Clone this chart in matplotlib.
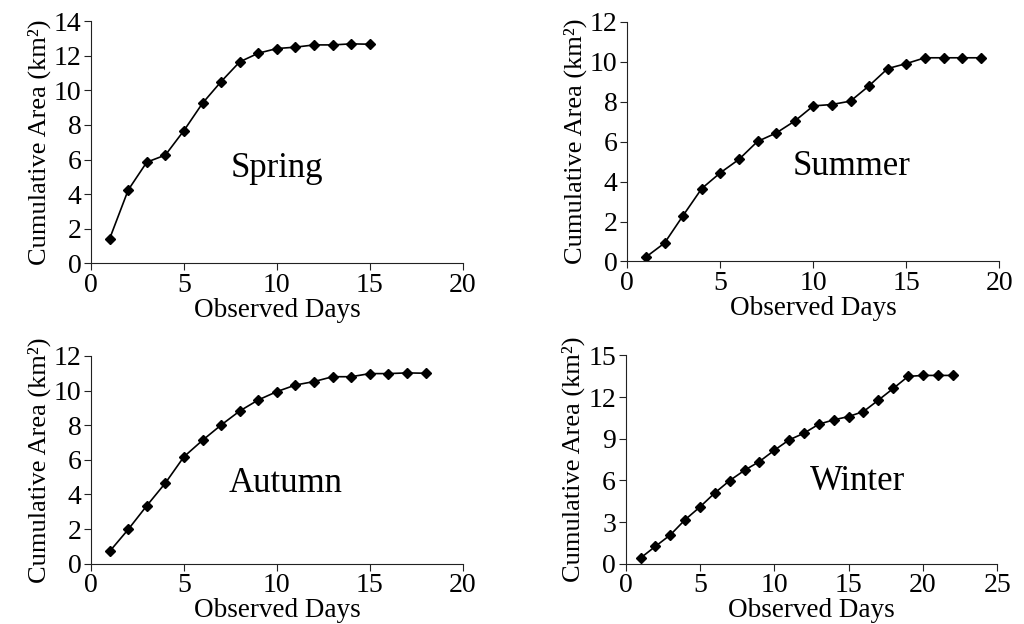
import matplotlib
matplotlib.use("Agg")
import matplotlib.pyplot as plt

plt.rcParams['font.family'] = ['Liberation Serif', 'DejaVu Serif']

# cumulative area (km2) per observed day
spring = [1.42, 4.24, 5.85, 6.26, 7.68, 9.26, 10.51, 11.65, 12.15, 12.42,
          12.50, 12.63, 12.63, 12.69, 12.67]
summer = [0.22, 0.92, 2.30, 3.65, 4.44, 5.11, 6.01, 6.43, 7.03, 7.79,
          7.86, 8.03, 8.80, 9.66, 9.91, 10.20, 10.20, 10.20, 10.20]
autumn = [0.71, 1.98, 3.35, 4.66, 6.18, 7.13, 8.01, 8.82, 9.46, 9.94,
          10.32, 10.52, 10.80, 10.80, 10.98, 10.98, 11.02, 11.00]
winter = [0.41, 1.25, 2.07, 3.17, 4.09, 5.10, 5.99, 6.73, 7.36, 8.17,
          8.92, 9.40, 10.05, 10.36, 10.60, 10.96, 11.78, 12.62, 13.49, 13.56,
          13.56, 13.56]

seasons = ["Spring", "Summer", "Autumn", "Winter"]

fig = plt.figure(figsize=(10.24, 6.24), dpi=100)

panels = [
    # rect, values, xmax, xstep, ymax, ystep, label position
    ([0.0889, 0.578, 0.363, 0.388], spring, 20, 5, 14, 2, (10.0, 5.5)),
    ([0.6126, 0.581, 0.3633, 0.384], summer, 20, 5, 12, 2, (12.06, 4.74)),
    ([0.0889, 0.0966, 0.363, 0.333], autumn, 20, 5, 12, 2, (10.44, 4.64)),
    ([0.611, 0.0966, 0.3629, 0.3338], winter, 25, 5, 15, 3, (15.6, 5.91)),
]

for name, (rect, vals, xmax, xstep, ymax, ystep, pos) in zip(seasons, panels):
    ax = fig.add_axes(rect)
    days = list(range(1, len(vals) + 1))
    ax.plot(days, vals, color='black', lw=1.2, marker='D', markersize=5)
    ax.set_xlim(0, xmax)
    ax.set_ylim(0, ymax)
    ax.set_xticks(range(0, xmax + 1, xstep))
    ax.set_yticks(range(0, ymax + 1, ystep))
    for s in ['top', 'right']:
        ax.spines[s].set_visible(False)
    for s in ['left', 'bottom']:
        ax.spines[s].set_color('#222222')
    ax.tick_params(direction='out', length=5, labelsize=20, pad=2,
                   color='#222222')
    ax.set_xlabel("Observed Days", fontsize=19.5, labelpad=0)
    ax.set_ylabel("Cumulative Area (km²)", fontsize=19, labelpad=2)
    ax.text(pos[0], pos[1], name, fontsize=25, ha='center', va='center')

fig.savefig("out.png", dpi=100)
